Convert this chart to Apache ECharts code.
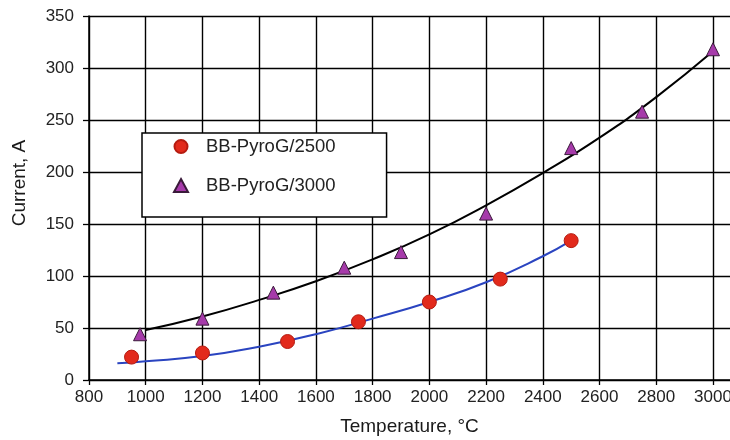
<!DOCTYPE html>
<html>
<head>
<meta charset="utf-8">
<script src="https://cdn.jsdelivr.net/npm/echarts@6/dist/echarts.min.js"></script>
<style>html,body{margin:0;padding:0;background:#fff;overflow:hidden;}#c{width:730px;height:440px;}</style>
</head>
<body>
<div id="c"></div>
<script>
// Measured points
var tempsA = [950, 1200, 1500, 1750, 2000, 2250, 2500];
var currentA = [22, 26, 37, 56, 75, 97, 134];
var tempsB = [980, 1200, 1450, 1700, 1900, 2200, 2500, 2750, 3000];
var currentB = [44, 59, 84, 108, 123, 160, 223, 258, 318];
// Fitted curves
var fitTempsA = [900, 1000, 1200, 1400, 1600, 1800, 2000, 2200, 2400, 2500];
var fitCurrentA = [16, 18, 23, 32, 44, 59, 75, 94, 119, 134];
var fitTempsB = [1000, 1200, 1400, 1600, 1800, 2000, 2200, 2400, 2600, 2800, 3000];
var fitCurrentB = [48, 61, 77, 95, 116, 140, 168, 199, 233, 272, 316];
var nameA = 'BB-PyroG/2500';
var nameB = 'BB-PyroG/3000';
var xTitle = 'Temperature, °C';
var yTitle = 'Current, A';

function zip(a, b) { return a.map(function (v, i) { return [v, b[i]]; }); }

var font = 'Liberation Sans, Arial, sans-serif';
var chart = echarts.init(document.getElementById('c'), null, {renderer: 'canvas'});
chart.setOption({
  animation: false,
  backgroundColor: '#fff',
  grid: {left: 89, top: 16, bottom: 60, right: 0, containLabel: false, outerBoundsMode: 'none'},
  xAxis: {
    type: 'value', min: 800, max: 3060, interval: 200,
    name: xTitle, nameLocation: 'middle', nameGap: 37,
    nameTextStyle: {fontFamily: font, fontSize: 19, color: '#1a1a1a'},
    axisLine: {show: true, lineStyle: {color: '#000', width: 1.5}},
    axisTick: {show: true, length: 5, lineStyle: {color: '#000', width: 1.3}},
    axisLabel: {fontFamily: font, fontSize: 17, color: '#222', margin: 9, showMaxLabel: false,
      formatter: function (v) { return v % 200 === 0 && v <= 3000 ? String(v) : ''; }},
    splitLine: {show: true, showMaxLine: false, lineStyle: {color: '#000', width: 1.4}}
  },
  yAxis: {
    type: 'value', min: 0, max: 350, interval: 50,
    axisLine: {show: true, lineStyle: {color: '#000', width: 1.5}},
    axisTick: {show: true, length: 6, lineStyle: {color: '#000', width: 1.3}},
    axisLabel: {fontFamily: font, fontSize: 17, color: '#222', margin: 15},
    splitLine: {show: true, lineStyle: {color: '#000', width: 1.4}}
  },
  graphic: [{
    type: 'text', x: 20, y: 183, rotation: Math.PI / 2,
    style: {text: yTitle, font: '19px ' + font, fill: '#1a1a1a', align: 'center', verticalAlign: 'middle'}
  }],
  legend: {
    left: 142, top: 133,
    orient: 'vertical',
    data: [nameA, nameB],
    itemWidth: 14, itemHeight: 13, itemGap: 20,
    padding: [4, 51, 22, 31],
    borderColor: '#000', borderWidth: 1.5, backgroundColor: '#fff',
    textStyle: {fontFamily: font, fontSize: 18.5, color: '#222', padding: [0, 0, 0, 13]}
  },
  series: [
    {type: 'line', data: zip(fitTempsA, fitCurrentA), smooth: true, symbol: 'none',
     lineStyle: {color: '#2a44c0', width: 2}, silent: true, z: 2},
    {type: 'line', data: zip(fitTempsB, fitCurrentB), smooth: true, symbol: 'none',
     lineStyle: {color: '#000', width: 2}, silent: true, z: 2},
    {name: nameA, type: 'scatter', data: zip(tempsA, currentA), symbol: 'circle', symbolSize: 14,
     itemStyle: {color: '#e22a1c', borderColor: '#b51b10', borderWidth: 1, opacity: 1}, z: 3},
    {name: nameB, type: 'scatter', data: zip(tempsB, currentB), symbol: 'triangle', symbolSize: 13,
     itemStyle: {color: '#a63aaa', borderColor: '#3a1a3a', borderWidth: 1, opacity: 1}, z: 3}
  ]
});
</script>
</body>
</html>
